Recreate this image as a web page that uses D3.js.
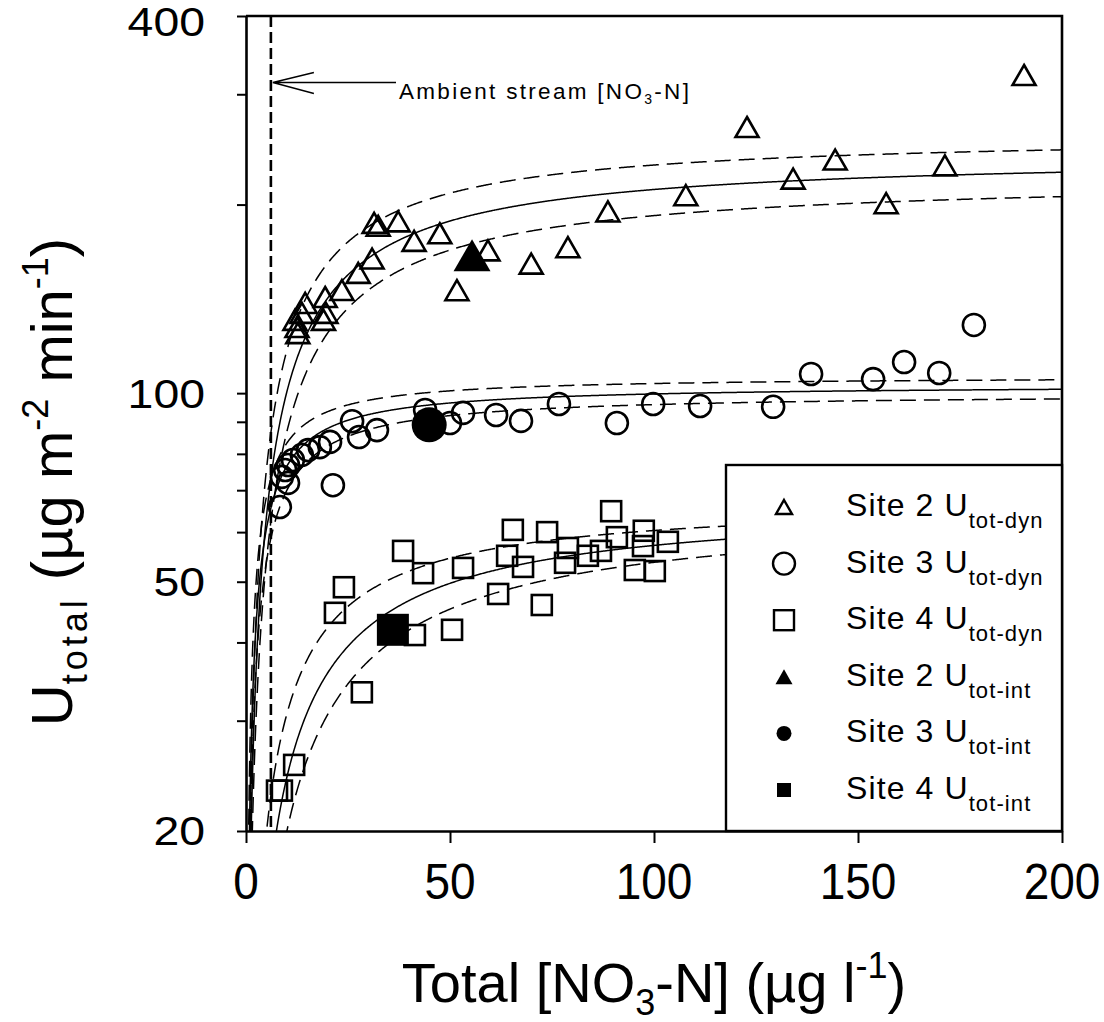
<!DOCTYPE html>
<html>
<head>
<meta charset="utf-8">
<script src="https://cdn.jsdelivr.net/npm/d3@7"></script>
<style>
  body { margin: 0; background: #fff; }
  svg { display: block; }
  text { font-family: "Liberation Sans", Arial, Helvetica, sans-serif; fill: #000; }
</style>
</head>
<body>
<svg id="chart" width="1104" height="1022"></svg>
<script>
// ---- data: total NO3-N (ug/l) vs total uptake (ug m-2 min-1) ----
const site2DynX = [190.7, 122.8, 144.4, 171.3, 134.1, 156.9, 107.8, 88.7, 78.9, 69.9, 59.3, 51.7, 47.5, 41.2, 37.3, 32.4, 31.4, 30.9, 27.5, 23.5, 19.4, 19.6, 19.0, 14.5, 13.7, 12.0, 12.5, 12.7];
const site2DynY = [322, 266, 236, 231, 220, 201, 207, 195, 171, 161, 169, 146, 180, 175, 188, 185, 187, 164, 155.6, 146.1, 142.4, 134.3, 130.9, 139.3, 134.3, 130.9, 127.5, 124.7];

const site3DynX = [178.4, 169.9, 161.3, 153.7, 138.5, 129.2, 111.3, 99.8, 90.9, 76.7, 67.4, 61.3, 53.2, 50.0, 43.9, 32.1, 27.7, 26.0, 21.3, 20.6, 18.1, 15.2, 13.7, 11.5, 10.3, 9.6, 8.8, 10.3, 8.3];
const site3DynY = [128.5, 107.7, 112.1, 105.3, 107.3, 95.1, 95.4, 96.1, 89.6, 96.1, 90.3, 92.3, 93.0, 89.6, 94.0, 87.3, 85.1, 90.2, 71.3, 83.6, 82.0, 81.1, 79.7, 78.2, 76.8, 75.4, 73.5, 71.9, 65.8];

const site4DynX = [38.5, 43.4, 53.2, 65.4, 73.8, 89.5, 64.0, 67.9, 78.9, 78.2, 83.8, 87.0, 90.9, 95.3, 97.3, 97.5, 100.2, 103.4, 61.8, 72.5, 50.5, 41.4, 24.0, 21.8, 28.4, 11.8, 7.6, 8.8];
const site4DynY = [56.0, 51.6, 52.6, 60.5, 60.0, 64.8, 55.0, 52.8, 56.6, 53.6, 55.0, 56.0, 58.9, 52.2, 57.0, 60.3, 52.0, 57.9, 47.8, 45.9, 41.9, 41.1, 49.0, 44.6, 33.3, 25.5, 23.2, 23.2];

const siteIntX = [55.4, 44.9, 36.0];
const siteIntY = [166, 89.0, 41.9];

// Michaelis-Menten fits per site: [fit, upper 95% band, lower 95% band]
const fitUmax = [[241, 259.5, 222], [103.2, 106.5, 100], [67.2, 67.6, 66.1]];
const fitKs   = [[14.0, 12.2, 15.6], [3.5, 2.8, 4.3], [17.6, 12.0, 23.1]];

const ambientNO3 = 6.1;

const xTicks = [0, 50, 100, 150, 200];
const yTicks = [20, 30, 40, 50, 60, 70, 80, 90, 100, 200, 300, 400];
const yTickLabels = [20, 50, 100, 400];

const legendNames = ["Site 2 U", "Site 3 U", "Site 4 U", "Site 2 U", "Site 3 U", "Site 4 U"];
const legendSubs = ["tot-dyn", "tot-dyn", "tot-dyn", "tot-int", "tot-int", "tot-int"];

// ---- drawing ----
const svg = d3.select("#chart");
const x = d3.scaleLinear().domain([0, 200]).range([246, 1062]);
const y = d3.scaleLog().domain([20, 400]).range([831, 16]);

svg.append("defs").append("clipPath").attr("id", "plotClip")
  .append("rect")
  .attr("x", x(0)).attr("y", y(400))
  .attr("width", x(200) - x(0)).attr("height", y(20) - y(400));

const triPath = (w, h) => `M0,${-h / 2}L${w / 2},${h / 2}L${-w / 2},${h / 2}Z`;

// fitted curves and confidence bands
const cGrid = d3.range(0.2, 200.001, 0.2);
const curve = d3.line().x(d => x(d[0])).y(d => y(d[1]));
const curves = svg.append("g").attr("clip-path", "url(#plotClip)");
fitUmax.forEach((row, i) => {
  row.forEach((um, j) => {
    const ks = fitKs[i][j];
    curves.append("path")
      .attr("d", curve(cGrid.map(c => [c, um * c / (ks + c)])))
      .attr("fill", "none")
      .attr("stroke", "#000")
      .attr("stroke-width", 1.5)
      .attr("stroke-dasharray", j === 0 ? null : "16,8");
  });
});

// ambient stream concentration marker
svg.append("line")
  .attr("x1", x(ambientNO3)).attr("x2", x(ambientNO3))
  .attr("y1", y(400)).attr("y2", y(20))
  .attr("stroke", "#000").attr("stroke-width", 2.6)
  .attr("stroke-dasharray", "11,5");

const arrowY = 82.5;
const tipX = x(ambientNO3) + 2;
svg.append("path")
  .attr("d", `M${tipX},${arrowY}H396M${tipX + 41},${arrowY - 10}L${tipX},${arrowY}L${tipX + 41},${arrowY + 11}`)
  .attr("fill", "none").attr("stroke", "#000").attr("stroke-width", 1.3);

const amb = svg.append("text")
  .attr("x", 399).attr("y", 99)
  .attr("font-size", 22.5).attr("letter-spacing", 2.3);
amb.append("tspan").text("Ambient stream [NO");
amb.append("tspan").attr("font-size", 14).attr("dy", 5).text("3");
amb.append("tspan").attr("dy", -5).text("-N]");

// markers
const pts = svg.append("g").attr("fill", "none").attr("stroke", "#000").attr("stroke-width", 2.6);
site2DynX.forEach((c, i) => {
  pts.append("path").attr("d", triPath(23, 20))
    .attr("transform", `translate(${x(c)},${y(site2DynY[i])})`);
});
site3DynX.forEach((c, i) => {
  pts.append("circle").attr("cx", x(c)).attr("cy", y(site3DynY[i])).attr("r", 11);
});
site4DynX.forEach((c, i) => {
  pts.append("rect")
    .attr("x", x(c) - 10).attr("y", y(site4DynY[i]) - 10)
    .attr("width", 20).attr("height", 20);
});

const filled = svg.append("g").attr("fill", "#000").attr("stroke", "none");
filled.append("path").attr("d", triPath(37, 32))
  .attr("transform", `translate(${x(siteIntX[0])},${y(siteIntY[0])})`);
filled.append("circle").attr("cx", x(siteIntX[1])).attr("cy", y(siteIntY[1])).attr("r", 17.5);
filled.append("rect")
  .attr("x", x(siteIntX[2]) - 16).attr("y", y(siteIntY[2]) - 16)
  .attr("width", 32).attr("height", 32);

// axes
const yAxis = d3.axisLeft(y).tickValues(yTicks).tickFormat("").tickSize(9).tickSizeOuter(0);
const gy = svg.append("g").attr("transform", `translate(${x(0)},0)`).call(yAxis);
gy.select(".domain").attr("stroke-width", 2.6);
gy.selectAll(".tick line").attr("stroke-width", 2);

const xAxis = d3.axisBottom(x).tickValues(xTicks).tickFormat("").tickSize(12).tickSizeOuter(0);
const gx = svg.append("g").attr("transform", `translate(0,${y(20)})`).call(xAxis);
gx.select(".domain").attr("stroke-width", 2.6);
gx.selectAll(".tick line").attr("stroke-width", 2);

// frame top and right
svg.append("path")
  .attr("d", `M${x(0)},${y(400)}H${x(200)}V${y(20)}`)
  .attr("fill", "none").attr("stroke", "#000").attr("stroke-width", 2.6);

// tick labels (the top label is nudged down to stay inside the page)
yTickLabels.forEach(v => {
  const shift = v === 400 ? 6 : 0;
  svg.append("g").attr("transform", `translate(205,${y(v) + shift}) scale(1.16,1)`)
    .append("text").attr("text-anchor", "end").attr("dy", "0.36em")
    .attr("font-size", 40).text(v);
});
xTicks.forEach(v => {
  svg.append("g").attr("transform", `translate(${x(v)},899) scale(1,1.08)`)
    .append("text").attr("text-anchor", "middle")
    .attr("font-size", 46).text(v);
});

// axis titles
const xt = svg.append("text")
  .attr("x", x(100)).attr("y", 1002)
  .attr("text-anchor", "middle").attr("font-size", 56);
xt.append("tspan").text("Total [NO");
xt.append("tspan").attr("font-size", 36).attr("dy", 13).text("3");
xt.append("tspan").attr("dy", -13).text("-N] (\u00b5g l");
xt.append("tspan").attr("font-size", 36).attr("dy", -24).text("-1");
xt.append("tspan").attr("dy", 24).text(")");

const yt = svg.append("text")
  .attr("transform", "translate(72,482) rotate(-90)")
  .attr("text-anchor", "middle").attr("font-size", 58);
yt.append("tspan").text("U");
yt.append("tspan").attr("font-size", 36).attr("letter-spacing", 4).attr("dy", 15).text("total");
yt.append("tspan").attr("dy", -15).text(" (\u00b5g m");
yt.append("tspan").attr("font-size", 36).attr("dy", -24).text("-2");
yt.append("tspan").attr("dy", 24).text(" min");
yt.append("tspan").attr("font-size", 36).attr("dy", -24).text("-1");
yt.append("tspan").attr("dy", 24).text(")");

// legend
const lg = svg.append("g");
lg.append("rect")
  .attr("x", 726).attr("y", 465)
  .attr("width", x(200) - 726).attr("height", y(20) - 465)
  .attr("fill", "#fff").attr("stroke", "#000").attr("stroke-width", 2.4);

const rowY = d3.range(6).map(i => 507 + i * 56.6);
const symX = 784;
lg.append("path").attr("d", triPath(16, 14)).attr("transform", `translate(${symX},${rowY[0]})`)
  .attr("fill", "none").attr("stroke", "#000").attr("stroke-width", 2.4);
lg.append("circle").attr("cx", symX).attr("cy", rowY[1]).attr("r", 11)
  .attr("fill", "none").attr("stroke", "#000").attr("stroke-width", 2.4);
lg.append("rect").attr("x", symX - 10).attr("y", rowY[2] - 10).attr("width", 20).attr("height", 20)
  .attr("fill", "none").attr("stroke", "#000").attr("stroke-width", 2.4);
lg.append("path").attr("d", triPath(17, 15)).attr("transform", `translate(${symX},${rowY[3]})`)
  .attr("fill", "#000");
lg.append("circle").attr("cx", symX).attr("cy", rowY[4]).attr("r", 7.5).attr("fill", "#000");
lg.append("rect").attr("x", symX - 7).attr("y", rowY[5] - 7).attr("width", 14).attr("height", 14)
  .attr("fill", "#000");

legendNames.forEach((name, i) => {
  const t = lg.append("text")
    .attr("x", 846).attr("y", rowY[i] + 9)
    .attr("font-size", 32).attr("letter-spacing", 1.1);
  t.append("tspan").text(name);
  t.append("tspan").attr("font-size", 22).attr("dy", 12).text(legendSubs[i]);
});
</script>
</body>
</html>
